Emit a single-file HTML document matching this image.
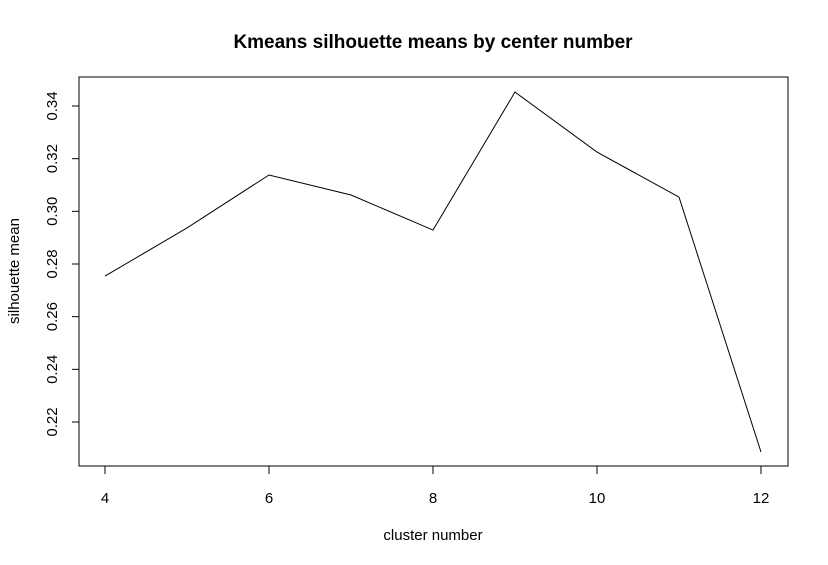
<!DOCTYPE html>
<html>
<head>
<meta charset="utf-8">
<style>
html,body{margin:0;padding:0;background:#fff;}
svg{display:block;font-family:"Liberation Sans",Arial,sans-serif;}
</style>
</head>
<body>
<svg id="chart" width="828" height="565" viewBox="0 0 828 565">
  <text x="433" y="48" text-anchor="middle" font-size="19" font-weight="bold" fill="#000">Kmeans silhouette means by center number</text>
  <rect x="79" y="77" width="709" height="389" fill="none" stroke="#000" stroke-width="1"/>
  <g id="xaxis"></g>
  <g id="yaxis"></g>
  <text x="433" y="540" text-anchor="middle" font-size="15" fill="#000">cluster number</text>
  <text transform="translate(19,271) rotate(-90)" text-anchor="middle" font-size="15" fill="#000">silhouette mean</text>
  <path id="series" fill="none" stroke="#000" stroke-width="1"/>
</svg>
<script>
const clusters = [4,5,6,7,8,9,10,11,12];
const silhouette = [0.2754,0.2937,0.3138,0.3062,0.2929,0.3453,0.3225,0.3054,0.2086];
const xTicks = [4,6,8,10,12];
const yTicks = [0.22,0.24,0.26,0.28,0.30,0.32,0.34];
const yTickLabels = ["0.22","0.24","0.26","0.28","0.30","0.32","0.34"];

const NS = "http://www.w3.org/2000/svg";
function xs(v){ return 105 + (v-4)*82; }
function ys(v){ return 106 + (0.34-v)*(316/0.12); }

const xg = document.getElementById('xaxis');
const yg = document.getElementById('yaxis');
function mk(tag, attrs, parent){
  const e = document.createElementNS(NS, tag);
  for (const k in attrs) e.setAttribute(k, attrs[k]);
  parent.appendChild(e);
  return e;
}
mk('line',{x1:xs(xTicks[0]),x2:xs(xTicks[xTicks.length-1]),y1:466,y2:466,stroke:'#000'},xg);
xTicks.forEach(t=>{
  const l = mk('line',{x1:xs(t),x2:xs(t),y1:466,y2:474,stroke:'#000'},xg);
  
  
  const tx = mk('text',{x:xs(t),y:503,'text-anchor':'middle','font-size':15,fill:'#000'},xg);
  tx.textContent = t;
  
  
});
mk('line',{x1:79,x2:79,y1:ys(yTicks[0]),y2:ys(yTicks[yTicks.length-1]),stroke:'#000'},yg);
yTicks.forEach((t,i)=>{
  const l = mk('line',{x1:72,x2:79,y1:ys(t),y2:ys(t),stroke:'#000'},yg);
  
  
  const tx = mk('text',{transform:`translate(57,${ys(t)}) rotate(-90)`,'text-anchor':'middle','font-size':15,fill:'#000'},yg);
  tx.textContent = yTickLabels[i];
  
  
});
document.getElementById('series').setAttribute('d',
  clusters.map((c,i)=>(i?'L':'M')+xs(c)+' '+ys(silhouette[i])).join(' '));
</script>
</body>
</html>
